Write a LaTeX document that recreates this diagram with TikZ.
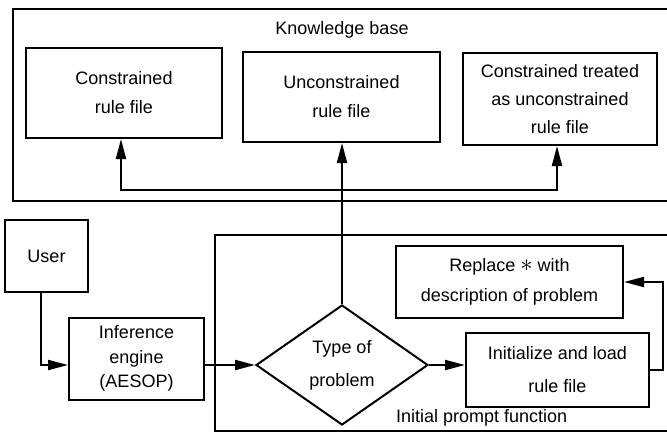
\documentclass[tikz,border=0pt]{standalone}
\usepackage{fontspec}
\setmainfont{Liberation Sans}
\usetikzlibrary{shapes.geometric,arrows.meta}
\begin{document}
\begin{tikzpicture}[x=1pt,y=-1pt,
  line width=2pt,
  txt/.style={font=\fontsize{18}{29}\selectfont},
  box/.style={draw, rectangle, inner sep=0pt, align=center, txt},
  dec/.style={draw, diamond, inner sep=0pt, align=center, txt},
  arr/.style={-{Triangle[length=20pt,width=10pt]}},
  lbl/.style={inner sep=0pt, txt}]
\useasboundingbox (0,0) rectangle (667,439);
\clip (0,0) rectangle (667,439);
% frames
\draw (675,9) -- (13,9) -- (13,201) -- (675,201);
\draw (675,235) -- (215,235) -- (215,431) -- (675,431);
\node[lbl] (kb) at (342,30) {Knowledge base};
\node[lbl, anchor=west] (ipf) at (395,418) {Initial prompt function};
% knowledge base boxes
\node[box, minimum width=196pt, minimum height=90pt] (b1) at (124,93) {Constrained\\rule file};
\node[box, minimum width=197pt, minimum height=90pt] (b2) at (341.5,97) {Unconstrained\\rule file};
\node[box, minimum width=194pt, minimum height=92pt, font=\fontsize{18}{28}\selectfont] (b3) at (560,99) {Constrained treated\\as unconstrained\\rule file};
% lower part
\node[box, minimum width=83pt, minimum height=72pt] (user) at (46.5,256) {User};
\node[box, minimum width=135pt, minimum height=82pt, font=\fontsize{18}{24.5}\selectfont] (inf) at (136.5,358.5) {Inference\\engine\\(AESOP)};
\node[dec, minimum width=172pt, minimum height=120pt, font=\fontsize{18}{33}\selectfont] (dia) at (342,365) {Type of\\problem};
\node[box, minimum width=227pt, minimum height=72pt, font=\fontsize{18}{30}\selectfont] (rep) at (509.5,282) {Replace {\fontsize{30}{30}\selectfont$\ast$} with\\description of problem};
\node[box, minimum width=183pt, minimum height=74pt, font=\fontsize{18}{33}\selectfont] (init) at (557.5,370) {Initialize and load\\rule file};
\coordinate (jn) at (342,190);
% connectors
\draw[arr] ([xshift=-6pt]user.south) |- (dia.west -| inf.west);
\draw[arr] (dia.west -| inf.east) -- (dia.west);
\draw[arr] (dia.east) -- (dia.east -| init.west);
\draw[arr] (dia.north) -- (dia.north |- b2.south);
\draw[arr] (jn) -| ([xshift=-3pt]b1.south);
\draw[arr] (jn) -| ([xshift=-3pt]b3.south);
\draw[arr] (init.east) -- ++(13,0) |- (rep.east);
\end{tikzpicture}
\end{document}
